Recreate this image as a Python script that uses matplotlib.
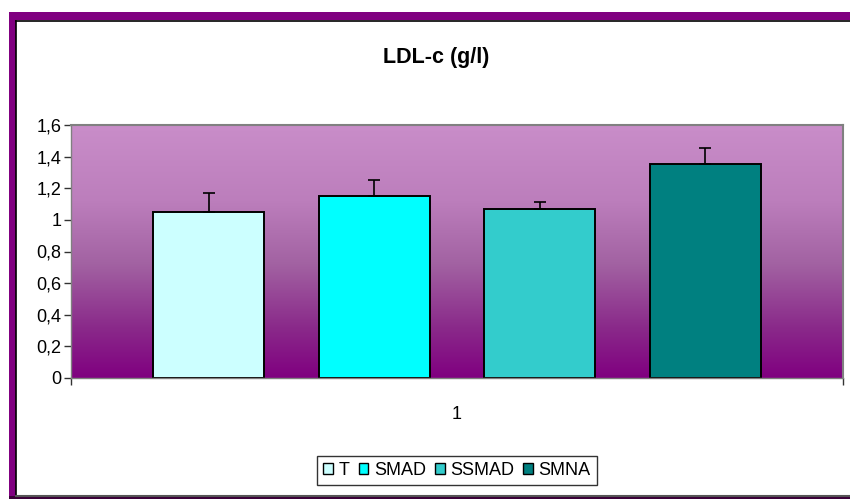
import numpy as np
import matplotlib
matplotlib.use("Agg")
import matplotlib.pyplot as plt
from matplotlib.colors import LinearSegmentedColormap
from matplotlib.patches import Patch, Rectangle

plt.rcParams['font.family'] = ['Liberation Sans', 'DejaVu Sans']

# Data
groups = ["T", "SMAD", "SSMAD", "SMNA"]
means = [1.05, 1.15, 1.07, 1.355]
errors = [0.12, 0.10, 0.045, 0.10]
colors = ["#CCFFFF", "#00FFFF", "#33CCCC", "#008080"]
category_labels = ["1"]
ytick_values = [0, 0.2, 0.4, 0.6, 0.8, 1.0, 1.2, 1.4, 1.6]
ytick_labels = ["0", "0,2", "0,4", "0,6", "0,8", "1", "1,2", "1,4", "1,6"]
title = "LDL-c (g/l)"

W, H = 850, 499
fig = plt.figure(figsize=(W / 100, H / 100), dpi=100)
fig.patch.set_facecolor("white")

# Outer chart frame (purple band with thin dark inner line)
purple = "#800080"
fig.patches.append(Rectangle((9 / W, 0), 7 / W, 1 - 12 / H, transform=fig.transFigure,
                             facecolor=purple, edgecolor="none", zorder=0))
fig.patches.append(Rectangle((9 / W, 1 - 20 / H), 1, 8 / H, transform=fig.transFigure,
                             facecolor=purple, edgecolor="none", zorder=0))
fig.patches.append(Rectangle((9 / W, 0), 1, 3 / H, transform=fig.transFigure,
                             facecolor="#3a0038", edgecolor="none", zorder=0))
fig.lines.append(plt.Line2D([15.5 / W, 15.5 / W], [3 / H, 1 - 20.5 / H], transform=fig.transFigure,
                            color="black", lw=1.2))
fig.lines.append(plt.Line2D([15.5 / W, 1], [1 - 20.5 / H, 1 - 20.5 / H], transform=fig.transFigure,
                            color="black", lw=1.2))
fig.lines.append(plt.Line2D([15.5 / W, 1], [3.2 / H, 3.2 / H], transform=fig.transFigure,
                            color="#555555", lw=1.5))

# Plot area
left, right, top, bottom = 71, 843, 125, 378
ax = fig.add_axes([left / W, 1 - bottom / H, (right - left) / W, (bottom - top) / H])
ax.set_xlim(0.5, 1.5)
ax.set_ylim(0, 1.6)

# Vertical gradient background
grad_cmap = LinearSegmentedColormap.from_list(
    "bg", [(0.0, "#800080"), (0.2, "#8A2A8A"), (0.45, "#A262A2"),
           (0.7, "#BC7EBC"), (1.0, "#C98DC9")])
grad = np.linspace(0, 1, 256).reshape(-1, 1)
ax.imshow(grad, cmap=grad_cmap, origin="lower", aspect="auto",
          extent=[0.5, 1.5, 0, 1.6], zorder=0)

# Bars with upward error bars
step = 165.5 / (right - left)
width = 111 / (right - left)
n = len(groups)
for i, (g, m, e, c) in enumerate(zip(groups, means, errors, colors)):
    x = 1 + (i - (n - 1) / 2) * step
    ax.bar(x, m, width=width, color=c, edgecolor="black", linewidth=1.4, zorder=2)
    ax.errorbar(x, m, yerr=[[0], [e]], fmt="none", ecolor="black",
                elinewidth=1.2, capsize=4, capthick=1.2, zorder=3)

# Axes styling
for side in ["top", "right"]:
    ax.spines[side].set_color("#808080")
    ax.spines[side].set_linewidth(1.5)
ax.spines["left"].set_color("#808080")
ax.spines["bottom"].set_color("#808080")
ax.spines["left"].set_linewidth(1.0)
ax.spines["bottom"].set_linewidth(1.0)

ax.set_yticks(ytick_values)
ax.set_yticklabels(ytick_labels, fontsize=13)
ax.tick_params(axis="y", length=5, width=1, color="#333333", pad=2)

ax.set_xticks([0.5, 1.5])
ax.set_xticklabels(["", ""])
ax.set_xticks([1.0], minor=True)
ax.set_xticklabels(category_labels, minor=True, fontsize=13)
ax.tick_params(axis="x", which="major", length=5, width=1, color="#333333")
ax.tick_params(axis="x", which="minor", length=0, pad=20)

fig.text(436 / W, 1 - 57 / H, title, ha="center", va="center",
         fontsize=15.5, fontweight="bold")

handles = [Patch(facecolor=c, edgecolor="black", linewidth=1.0) for c in colors]
leg = fig.legend(handles, groups, loc="center", bbox_to_anchor=(457 / W, 1 - 470.5 / H),
                 ncol=4, fontsize=13, frameon=True, fancybox=False,
                 handlelength=0.55, handleheight=0.55, handletextpad=0.3,
                 columnspacing=0.5, borderpad=0.35)
leg.get_frame().set_edgecolor("black")
leg.get_frame().set_linewidth(1.0)

fig.savefig("out.png", dpi=100)
